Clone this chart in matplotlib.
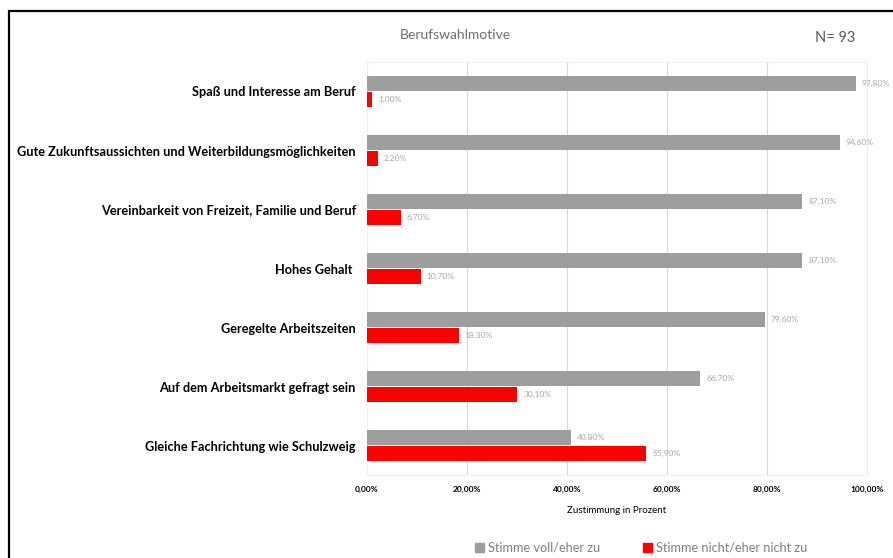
import matplotlib.pyplot as plt
from matplotlib.patches import Rectangle, Patch
import numpy as np

plt.rcParams['font.family'] = ['Lato', 'DejaVu Sans']

categories = [
    "Spaß und Interesse am Beruf",
    "Gute Zukunftsaussichten und Weiterbildungsmöglichkeiten",
    "Vereinbarkeit von Freizeit, Familie und Beruf",
    "Hohes Gehalt ",
    "Geregelte Arbeitszeiten",
    "Auf dem Arbeitsmarkt gefragt sein",
    "Gleiche Fachrichtung wie Schulzweig",
]
zustimmung = [97.8, 94.6, 87.1, 87.1, 79.6, 66.7, 40.8]
ablehnung = [1.0, 2.2, 6.7, 10.7, 18.3, 30.1, 55.9]
xticks = [0, 20, 40, 60, 80, 100]

gray = '#9E9E9E'
red = '#FF0000'
label_col = '#A6A6A6'

def pct(v):
    return f"{v:.2f}%".replace('.', ',')

fig = plt.figure(figsize=(8.93, 5.58), dpi=100)
ax = fig.add_axes([0.411, 0.1487, 0.5598, 0.7402])

y = np.arange(len(categories))
h = 0.25
b1 = ax.barh(y - h / 2 - 0.015, zustimmung, height=h, color=gray, zorder=3)
b2 = ax.barh(y + h / 2 + 0.015, ablehnung, height=h, color=red, zorder=3)

for bars, vals in [(b1, zustimmung), (b2, ablehnung)]:
    for bar, v in zip(bars, vals):
        ax.text(v + 1.2, bar.get_y() + bar.get_height() / 2, pct(v),
                va='center', ha='left', fontsize=6, color=label_col,
                clip_on=False)

ax.set_ylim(len(categories) - 0.5, -0.5)
ax.set_xlim(0, 100)
ax.set_yticks(y)
ax.set_yticklabels(categories, fontsize=9.2, fontweight='bold')
ax.set_xticks(xticks)
ax.set_xticklabels([pct(t) for t in xticks], fontsize=6, fontweight='bold')
ax.tick_params(length=0, pad=8)
ax.tick_params(axis='x', pad=8)
ax.grid(axis='x', color='#D9D9D9', linewidth=0.8, zorder=0)
for s in ax.spines.values():
    s.set_color('#F0F0F0')
    s.set_linewidth(0.8)
ax.set_xlabel('Zustimmung in Prozent', fontsize=7, labelpad=9)

fig.text(0.448, 0.938, 'Berufswahlmotive', fontsize=10, color='#6E6E6E', va='center')
fig.text(0.913, 0.932, 'N= 93', fontsize=10.5, color='#595959', va='center')

handles = [Patch(color=gray, label='Stimme voll/eher zu'),
           Patch(color=red, label='Stimme nicht/eher nicht zu')]
leg = fig.legend(handles=handles, loc='center', bbox_to_anchor=(0.718, 0.018),
                 ncol=2, frameon=False, fontsize=9.2, handlelength=0.7,
                 handleheight=0.8, handletextpad=0.3, columnspacing=3.4)
for t in leg.get_texts():
    t.set_color('#808080')

frame = Rectangle((9 / 893, -0.1), 1.2, 1 - 11 / 558 + 0.1, transform=fig.transFigure,
                  fill=False, edgecolor='black', linewidth=1.6)
fig.add_artist(frame)

fig.savefig('out.png', dpi=100)
